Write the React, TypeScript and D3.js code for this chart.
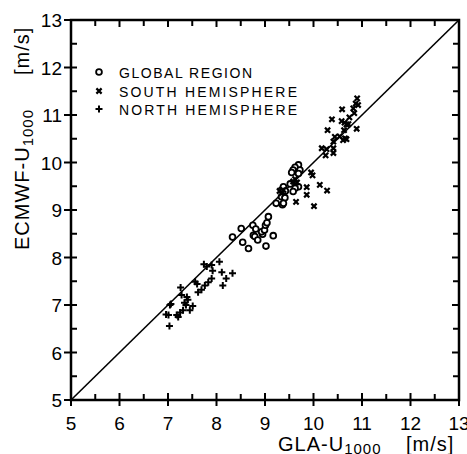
import React from "react";
import * as d3 from "d3";

const axisTicks = [5, 6, 7, 8, 9, 10, 11, 12, 13];
const minorTicks = [5.5, 6.5, 7.5, 8.5, 9.5, 10.5, 11.5, 12.5];
const legendLabels = ["GLOBAL REGION", "SOUTH HEMISPHERE", "NORTH HEMISPHERE"];

// North hemisphere (+)
const northData: [number, number][] = [
  [8.06, 7.91], [7.9, 7.84], [7.8, 7.81], [7.74, 7.86], [7.92, 7.72], [8.11, 7.69],
  [8.33, 7.67], [8.2, 7.56], [8.13, 7.41], [7.9, 7.56], [7.83, 7.48], [7.76, 7.41],
  [7.56, 7.49], [7.6, 7.44], [7.26, 7.37], [7.62, 7.27], [7.69, 7.32], [7.28, 7.21],
  [7.41, 7.11], [7.34, 7.05], [7.37, 7.0], [7.51, 6.98], [7.45, 6.89], [7.06, 7.02],
  [7.04, 7.0], [6.96, 6.8], [7.01, 6.79], [7.18, 6.79], [7.21, 6.75], [7.25, 6.84],
  [7.03, 6.56], [7.31, 6.89], [7.39, 7.17],
];

// Global region (o)
const globalData: [number, number][] = [
  [8.33, 8.43], [8.51, 8.61], [8.54, 8.32], [8.66, 8.19], [8.75, 8.68], [8.81, 8.6],
  [8.76, 8.47], [8.79, 8.44], [8.85, 8.37], [8.95, 8.49], [8.93, 8.54], [8.99, 8.58],
  [9.01, 8.68], [9.04, 8.73], [9.07, 8.86], [9.02, 8.24], [9.17, 8.46], [9.23, 9.14],
  [9.36, 9.11], [9.34, 9.28], [9.41, 9.26], [9.69, 9.95], [9.62, 9.9], [9.58, 9.84],
  [9.55, 9.79], [9.72, 9.84], [9.69, 9.77], [9.69, 9.49], [9.62, 9.46], [9.58, 9.39],
  [9.38, 9.14], [9.34, 9.42], [9.38, 9.49], [9.52, 9.55], [9.42, 9.4],
];

// South hemisphere (x)
const southData: [number, number][] = [
  [10.9, 11.35], [10.87, 11.24], [10.92, 11.21], [10.82, 11.14], [10.84, 11.04],
  [10.59, 11.12], [10.74, 10.95], [10.38, 10.91], [10.58, 10.87], [10.64, 10.84],
  [10.68, 10.8], [10.72, 10.81], [10.89, 10.71], [10.29, 10.68], [10.63, 10.68],
  [10.54, 10.55], [10.44, 10.54], [10.61, 10.47], [10.65, 10.51], [10.68, 10.49],
  [10.41, 10.44], [10.17, 10.3], [10.27, 10.28], [10.41, 10.3], [10.41, 10.2],
  [10.25, 10.15], [9.95, 9.79], [9.98, 9.73], [9.86, 9.48], [10.13, 9.53],
  [10.28, 9.41], [9.86, 9.32], [9.64, 9.17], [10.01, 9.08], [9.58, 9.6],
  [9.62, 9.65], [9.66, 9.58], [9.34, 9.35], [9.38, 9.42], [9.3, 9.4],
];

const W = 467;
const H = 454;
const x = d3.scaleLinear().domain([5, 13]).range([71, 459]);
const y = d3.scaleLinear().domain([5, 13]).range([400, 20]);

const FONT = "'Liberation Sans', Arial, sans-serif";

function Circle({ cx, cy }: { cx: number; cy: number }) {
  return <circle cx={cx} cy={cy} r={2.9} fill="white" stroke="black" strokeWidth={1.8} />;
}
function Cross({ cx, cy }: { cx: number; cy: number }) {
  const s = 2.6;
  return (
    <path
      d={`M${cx - s},${cy - s}L${cx + s},${cy + s}M${cx - s},${cy + s}L${cx + s},${cy - s}`}
      stroke="black"
      strokeWidth={2.2}
    />
  );
}
function Plus({ cx, cy }: { cx: number; cy: number }) {
  const s = 3.5;
  return (
    <path
      d={`M${cx - s},${cy}L${cx + s},${cy}M${cx},${cy - s}L${cx},${cy + s}`}
      stroke="black"
      strokeWidth={2}
    />
  );
}

export default function App() {
  const x0 = x(5), x1 = x(13), y0 = y(5), y1 = y(13);
  const legendY = [72, 91, 109];
  const legendWidths = [133, 178, 178];
  return (
    <svg
      width={W}
      height={H}
      viewBox={`0 0 ${W} ${H}`}
      style={{ position: "absolute", left: 0, top: 0, background: "white" }}
      fontFamily={FONT}
    >
      <rect x={0} y={0} width={W} height={H} fill="white" />
      {/* diagonal */}
      <line x1={x(5)} y1={y(5)} x2={x(13)} y2={y(13)} stroke="black" strokeWidth={1.6} />

      {/* points */}
      {northData.map(([a, b], i) => (
        <Plus key={"n" + i} cx={x(a)} cy={y(b)} />
      ))}
      {globalData.map(([a, b], i) => (
        <Circle key={"g" + i} cx={x(a)} cy={y(b)} />
      ))}
      {southData.map(([a, b], i) => (
        <Cross key={"s" + i} cx={x(a)} cy={y(b)} />
      ))}

      {/* frame */}
      <rect x={x0} y={y1} width={x1 - x0} height={y0 - y1} fill="none" stroke="black" strokeWidth={2.5} />

      {/* ticks */}
      {axisTicks.map((t) => (
        <g key={"t" + t}>
          <line x1={x0 - 7} x2={x0 + 6} y1={y(t)} y2={y(t)} stroke="black" strokeWidth={2} />
          <line x1={x(t)} x2={x(t)} y1={y0 + 6} y2={y0 - 7} stroke="black" strokeWidth={2} />
          <line x1={x(t)} x2={x(t)} y1={y1} y2={y1 + 7} stroke="black" strokeWidth={2} />
          <line x1={x1} x2={x1 - 7} y1={y(t)} y2={y(t)} stroke="black" strokeWidth={2} />
        </g>
      ))}
      {minorTicks.map((t) => (
        <g key={"m" + t}>
          <line x1={x0} x2={x0 + 6} y1={y(t)} y2={y(t)} stroke="black" strokeWidth={2} />
          <line x1={x(t)} x2={x(t)} y1={y0} y2={y0 - 6} stroke="black" strokeWidth={2} />
          <line x1={x(t)} x2={x(t)} y1={y1} y2={y1 + 6} stroke="black" strokeWidth={2} />
          <line x1={x1} x2={x1 - 6} y1={y(t)} y2={y(t)} stroke="black" strokeWidth={2} />
        </g>
      ))}

      {/* tick labels */}
      {axisTicks.map((t) => (
        <text key={"yl" + t} x={x0 - 9} y={y(t) + 7} textAnchor="end" fontSize={19}>
          {t}
        </text>
      ))}
      {axisTicks.map((t) => (
        <text key={"xl" + t} x={x(t)} y={430} textAnchor="middle" fontSize={19}>
          {t}
        </text>
      ))}

      {/* x title */}
      <text x={278} y={451} fontSize={20} letterSpacing={1}>
        GLA-U
        <tspan fontSize={15} dy={3}>1000</tspan>
      </text>
      <text x={406} y={451} fontSize={20} letterSpacing={1}>
        [m/s]
      </text>

      {/* y title */}
      <g transform="translate(29,250) rotate(-90)">
        <text x={0} y={0} fontSize={20} letterSpacing={1}>
          ECMWF-U
          <tspan fontSize={15} dy={4}>1000</tspan>
        </text>
        <text x={175} y={0} fontSize={20} letterSpacing={1}>
          [m/s]
        </text>
      </g>

      {/* legend */}
      <Circle cx={99} cy={legendY[0]} />
      <Cross cx={99} cy={legendY[1]} />
      <Plus cx={99} cy={legendY[2]} />
      {legendLabels.map((l, i) => (
        <text
          key={l}
          x={119}
          y={legendY[i] + 6}
          fontSize={14}
          textLength={legendWidths[i]}
          lengthAdjust="spacing"
        >
          {l}
        </text>
      ))}
    </svg>
  );
}
